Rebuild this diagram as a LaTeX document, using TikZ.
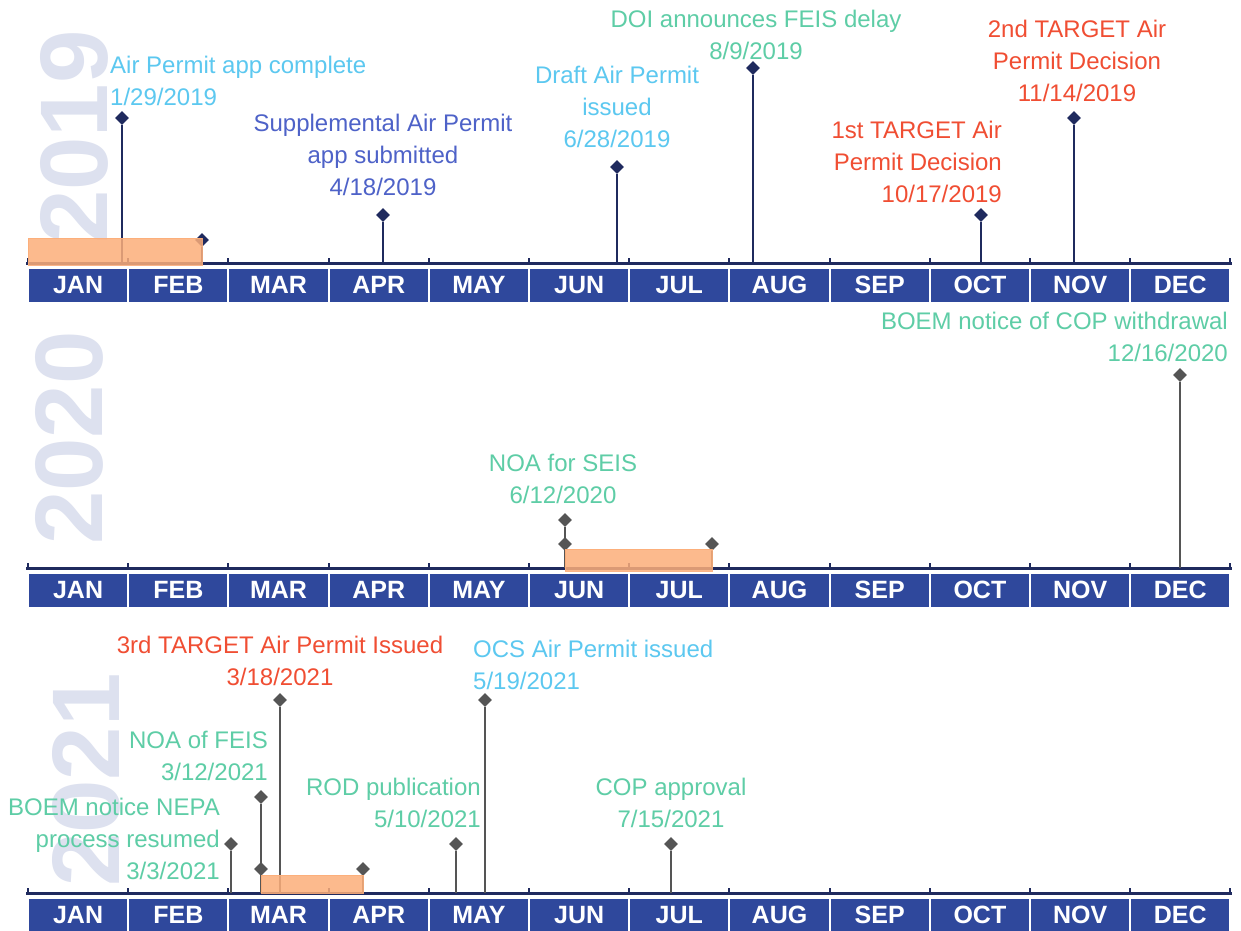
\documentclass[tikz,border=0pt]{standalone}
\usepackage{fontspec}
\setmainfont{Liberation Sans}
\usetikzlibrary{shapes.geometric}
\definecolor{navy}{HTML}{1F2A5E}
\definecolor{monthblue}{HTML}{2F489C}
\definecolor{yeargray}{HTML}{DDE1EF}
\definecolor{lblue}{HTML}{5CC8F0}
\definecolor{mblue}{HTML}{4E62C8}
\definecolor{lgreen}{HTML}{5ECDA6}
\definecolor{lred}{HTML}{F04E33}
\definecolor{dgray}{HTML}{555555}
\definecolor{barorange}{HTML}{FCAE7A}
\tikzset{
  yeartext/.style={rotate=90, text=yeargray, font=\fontsize{96}{96}\selectfont\bfseries, inner sep=0},
  monthbox/.style={fill=monthblue, text=white, minimum width=98.2pt, minimum height=33pt, inner sep=0, font=\fontsize{25}{25}\selectfont\bfseries},
  axisline/.style={draw=navy, line width=3pt},
  tickmark/.style={draw=navy, line width=2pt},
  navydia/.style={diamond, fill=navy, minimum size=14pt, inner sep=0},
  graydia/.style={diamond, fill=dgray, minimum size=14pt, inner sep=0},
  navystem/.style={draw=navy, line width=1.4pt},
  graystem/.style={draw=dgray, line width=1.2pt},
  periodbar/.style={fill=barorange, fill opacity=0.85, draw=barorange, draw opacity=0.9, line width=0.8pt},
  lbl/.style={font=\fontsize{24}{32}\selectfont, inner sep=0},
}
\begin{document}
\begin{tikzpicture}[x=1pt,y=-1pt]
\useasboundingbox (0,0) rectangle (1241,930);
\fill[white] (0,0) rectangle (1241,930);

% year watermarks
\node[yeartext] (y2019) at (74,137) {2019};
\node[yeartext] (y2020) at (69,438) {2020};
\node[yeartext] (y2021) at (86,780) {2021};

% axes with ticks and months
\foreach \nm/\ay in {a/263, b/568, c/893} {
  \coordinate (\nm-start) at (26,\ay);
  \coordinate (\nm-end) at (1232,\ay);
  \draw[axisline] (\nm-start) -- (\nm-end);
  \foreach \k in {0,...,12} {
    \coordinate (\nm-t\k) at ({28+\k*100.2},\ay);
    \coordinate (\nm-u\k) at ({28+\k*100.2},\ay-5);
    \draw[tickmark] (\nm-t\k) -- (\nm-u\k);
  }
  \foreach \m [count=\i] in {JAN,FEB,MAR,APR,MAY,JUN,JUL,AUG,SEP,OCT,NOV,DEC} {
    \node[monthbox] (\nm-m\i) at ({28+(\i-0.5)*100.2},\ay+22) {\m};
  }
}

% ---------- 2019 ----------
\foreach \n/\x/\y in {p1/122/118, p2/202/240, p3/383/215, p4/617/167, p6/981/215, p7/1074/118} {
  \node[navydia] (\n) at (\x,\y) {};
  \coordinate (\n-b) at (\x,263);
  \draw[navystem] (\n) -- (\n-b);
}
\node[navydia] (p5) at (753,68) {};
\coordinate (p5-b) at (753,263);
\draw[navystem, line width=2.4pt] (p5) -- (p5-b);
\node[periodbar, minimum width=174pt, minimum height=27pt, anchor=north west, inner sep=0] (bar1) at (28,238) {};

\node[lbl, text=lblue, align=left, anchor=west] (t1) at (110,80.5) {Air Permit app complete\\1/29/2019};
\node[lbl, text=mblue, align=center] (t2) at (383,155) {Supplemental Air Permit\\app submitted\\4/18/2019};
\node[lbl, text=lblue, align=center] (t3) at (617,107) {Draft Air Permit\\issued\\6/28/2019};
\node[lbl, text=lgreen, align=center] (t4) at (756,35) {DOI announces FEIS delay\\8/9/2019};
\node[lbl, text=lred, align=right, anchor=east] (t5) at (1002,162) {1st TARGET Air\\Permit Decision\\10/17/2019};
\node[lbl, text=lred, align=center] (t6) at (1077,61) {2nd TARGET Air\\Permit Decision\\11/14/2019};

% ---------- 2020 ----------
\foreach \n/\x/\y in {q1/565/520, q2/565/544, q3/712/544, q4/1180/375} {
  \node[graydia] (\n) at (\x,\y) {};
  \coordinate (\n-b) at (\x,568);
  \draw[graystem] (\n) -- (\n-b);
}
\node[periodbar, minimum width=147pt, minimum height=22pt, anchor=north west] (bar2) at (565,549) {};
\node[lbl, text=lgreen, align=center] (t7) at (563,479) {NOA for SEIS\\6/12/2020};
\node[lbl, text=lgreen, align=right, anchor=east] (t8) at (1228,336.5) {BOEM notice of COP withdrawal\\12/16/2020};

% ---------- 2021 ----------
\foreach \n/\x/\y in {r1/280/700, r2/485/700, r3/261/797, r4/261/869, r5/231/844, r6/363/869, r7/456/844, r8/671/844} {
  \node[graydia] (\n) at (\x,\y) {};
  \coordinate (\n-b) at (\x,893);
  \draw[graystem] (\n) -- (\n-b);
}
\node[periodbar, minimum width=102pt, minimum height=18pt, anchor=north west] (bar3) at (261,875) {};

\node[lbl, text=lred, align=center] (t9) at (280,661) {3rd TARGET Air Permit Issued\\3/18/2021};
\node[lbl, text=lblue, align=left, anchor=west] (t10) at (473,665) {OCS Air Permit issued\\5/19/2021};
\node[lbl, text=lgreen, align=right, anchor=east] (t11) at (268,756) {NOA of FEIS\\3/12/2021};
\node[lbl, text=lgreen, align=right, anchor=east] (t12) at (220,839) {BOEM notice NEPA\\process resumed\\3/3/2021};
\node[lbl, text=lgreen, align=right, anchor=east] (t13) at (481,803) {ROD publication\\5/10/2021};
\node[lbl, text=lgreen, align=center] (t14) at (671,803) {COP approval\\7/15/2021};
\end{tikzpicture}
\end{document}
